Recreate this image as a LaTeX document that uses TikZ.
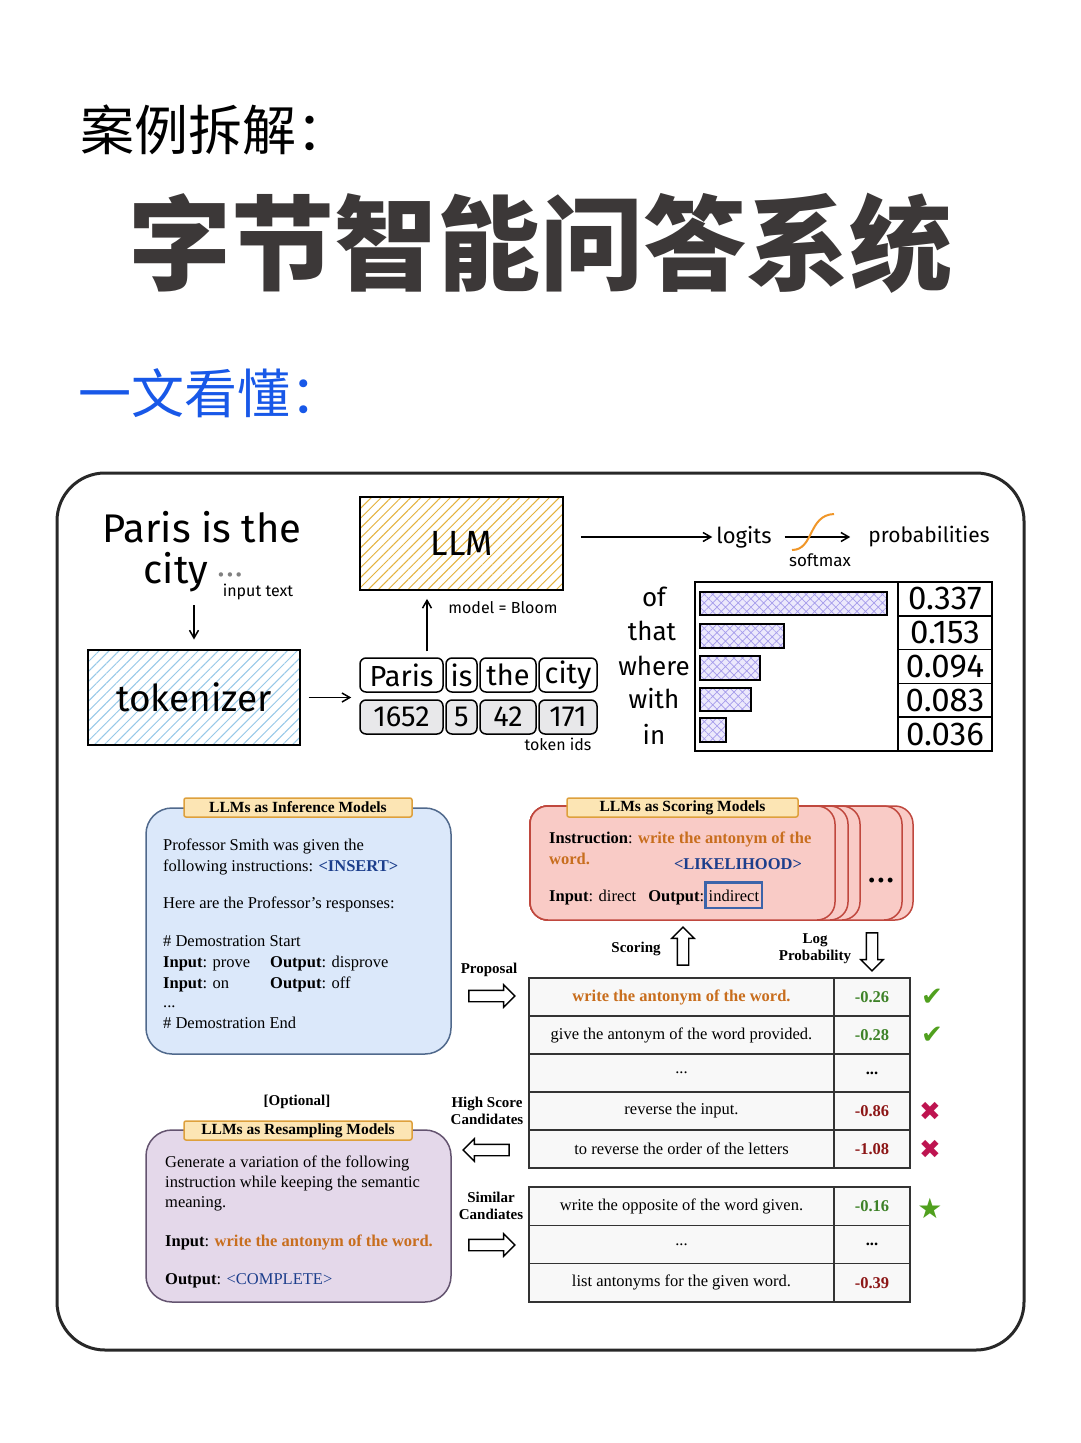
\documentclass[tikz,border=0pt]{standalone}
\usepackage{fontspec}
\usepackage{xcolor}
\usepackage{tikz}
\usetikzlibrary{arrows.meta,patterns.meta,shapes.arrows}
\setmainfont{Liberation Serif}
\newfontfamily\cjk{Noto Sans CJK SC}
\newfontfamily\hand{Fira Sans}
\newfontfamily\sym{DejaVu Sans}
\newcommand{\fsz}[1]{\fontsize{#1pt}{#1pt}\selectfont}
\definecolor{headgray}{RGB}{60,56,56}
\definecolor{headblue}{RGB}{24,88,232}
\definecolor{framegray}{RGB}{40,40,40}
\definecolor{tokhatch}{RGB}{150,200,232}
\definecolor{llmhatch}{RGB}{228,178,60}
\definecolor{barhatch}{RGB}{165,155,235}
\definecolor{barfill}{RGB}{236,233,252}
\definecolor{idfill}{RGB}{232,232,234}
\definecolor{softorange}{RGB}{240,150,40}
\definecolor{tagfill}{RGB}{252,229,180}
\definecolor{tagline}{RGB}{222,160,60}
\definecolor{inffill}{RGB}{219,232,250}
\definecolor{infline}{RGB}{80,105,140}
\definecolor{scofill}{RGB}{249,203,198}
\definecolor{scoline}{RGB}{192,72,62}
\definecolor{resfill}{RGB}{228,216,234}
\definecolor{resline}{RGB}{100,84,112}
\definecolor{cellfill}{RGB}{248,248,248}
\definecolor{insorange}{RGB}{200,110,30}
\definecolor{tagblue}{RGB}{28,62,140}
\definecolor{goodgreen}{RGB}{62,130,40}
\definecolor{badred}{RGB}{140,22,22}
\definecolor{tickgreen}{RGB}{80,160,30}
\definecolor{crossred}{RGB}{190,20,80}
\definecolor{boxblue}{RGB}{60,100,170}

\begin{document}
\begin{tikzpicture}[x=1pt,y=-1pt,
  handbox/.style={draw=black,line width=1.8pt},
  tokbox/.style={draw=black,line width=1.5pt,rounded corners=6pt,minimum height=34pt,inner sep=0pt,font=\hand\fsz{29}},
  handarrow/.style={line width=1.5pt,-{Straight Barb[angle=60:9pt]}},
  handlab/.style={inner sep=0pt,font=\hand\fsz{16}},
  valcell/.style={draw=black,line width=1.5pt,minimum width=94pt,minimum height=33.8pt,inner sep=0pt,font=\hand\fsz{33}},
  bar/.style={draw=black,line width=1.5pt,preaction={fill=barfill},pattern={Hatch[angle=45,distance=6pt,line width=0.7pt]},pattern color=barhatch},
  word/.style={inner sep=0pt,font=\hand\fsz{26}},
  tag/.style={draw=tagline,fill=tagfill,line width=1.5pt,rounded corners=2pt,minimum width=228pt,minimum height=19pt,inner sep=0pt,font=\bfseries\fsz{15.5}},
  body/.style={anchor=base west,inner sep=0pt,font=\fsz{16.5}},
  cellL/.style={draw=black!80,fill=cellfill,line width=1.3pt,minimum width=305pt,minimum height=38pt,inner sep=0pt,font=\fsz{16.5}},
  cellR/.style={draw=black!80,fill=cellfill,line width=1.3pt,minimum width=76pt,minimum height=38pt,inner sep=0pt,font=\bfseries\fsz{16.5}},
  hollow/.style={single arrow,draw=black,fill=white,line width=1.4pt,inner sep=5pt,minimum height=46pt,single arrow head extend=5.5pt,single arrow head indent=0pt},
  side/.style={font=\bfseries\fsz{15},align=center,inner sep=0pt},
  card/.style={draw=scoline,fill=scofill,line width=1.5pt,rounded corners=18pt}
]
\useasboundingbox (0,0) rectangle (1080,1443);
\fill[white] (0,0) rectangle (1080,1443);

% heading
\node[anchor=west,inner sep=0pt,font=\cjk\fsz{54}] (case) at (80,130) {案例拆解：};
\node[inner sep=0pt,font=\cjk\bfseries\fsz{103},text=headgray] (title) at (540,243) {字节智能问答系统};
\node[anchor=west,inner sep=0pt,font=\cjk\fsz{53},text=headblue] (sub) at (78,393) {一文看懂：};

% outer frame
\draw[framegray,line width=3pt,rounded corners=48pt] (57,473) rectangle (1024,1350);

% sketch: text -> tokenizer -> ids -> LLM
\node[inner sep=0pt,font=\hand\fsz{40}] (intext) at (202,527) {Paris is the};
\node[inner sep=0pt,font=\hand\fsz{40}] (city) at (176,572) {city};
\node[inner sep=0pt,font=\sym\fsz{15},text=gray] (dots) at (230,577) {•••};
\node[handlab] (inlab) at (258,592) {input text};
\node[handbox,minimum width=212pt,minimum height=95pt,pattern={Lines[angle=45,distance=7pt,line width=1pt]},pattern color=tokhatch,font=\hand\fsz{37}] (tok) at (194,697.5) {tokenizer};
\node[handbox,minimum width=203pt,minimum height=93pt,pattern={Lines[angle=45,distance=7pt,line width=1pt]},pattern color=llmhatch,font=\hand\fsz{35}] (llm) at (461.5,543.5) {LLM};

\node[tokbox,minimum width=83pt] (tp1) at (401.5,675) {Paris};
\node[tokbox,minimum width=31pt] (tp2) at (461.5,675) {is};
\node[tokbox,minimum width=56pt] (tp3) at (508,675) {the};
\node[tokbox,minimum width=58pt] (tp4) at (568,675) {city};
\node[tokbox,fill=idfill,minimum width=83pt] (ti1) at (401.5,717) {1652};
\node[tokbox,fill=idfill,minimum width=31pt] (ti2) at (461.5,717) {5};
\node[tokbox,fill=idfill,minimum width=56pt] (ti3) at (508,717) {42};
\node[tokbox,fill=idfill,minimum width=58pt] (ti4) at (568,717) {171};
\node[handlab] (idlab) at (558,744) {token ids};
\node[handlab] (modlab) at (503,608) {model = Bloom};

\draw[handarrow,shorten <=13pt,shorten >=10pt] (city.south -| tok.north) -- (tok.north);
\draw[handarrow,shorten <=8pt,shorten >=8pt] (tok.east) -- (tok.east -| tp1.west);
\draw[handarrow] ([xshift=25.5pt,yshift=6pt]tp1.north) -- ([xshift=-34.5pt,yshift=-8pt]llm.south);

% logits and probabilities
\node[inner sep=0pt,font=\hand\fsz{22}] (logits) at (744,537) {logits};
\node[inner sep=0pt,font=\hand\fsz{21}] (probs) at (929,537) {probabilities};
\node[handlab,font=\hand\fsz{17}] (smlab) at (820,560) {softmax};
\draw[handarrow,shorten <=17pt,shorten >=4pt] (llm.east |- logits.west) -- (logits.west);
\draw[handarrow,shorten <=13pt,shorten >=18pt] (logits.east) -- (probs.west);
\draw[softorange,line width=2pt] (792,550) .. controls (814,550) and (808,515) .. (834,514);

% bar chart
\draw[line width=1.5pt] (695,582) rectangle (898,751);
\draw[bar] (700,592) rectangle (887,615);
\draw[bar] (700,624) rectangle (784,648);
\draw[bar] (700,656) rectangle (760,680);
\draw[bar] (700,688) rectangle (751,711);
\draw[bar] (700,718) rectangle (726,742);
\node[valcell] (v1) at (945,598.9) {0.337};
\node[valcell] (v2) at (945,632.7) {0.153};
\node[valcell] (v3) at (945,666.5) {0.094};
\node[valcell] (v4) at (945,700.3) {0.083};
\node[valcell] (v5) at (945,734.1) {0.036};
\node[word] (w1) at (654,597) {of};
\node[word] (w2) at (652,631) {that};
\node[word] (w3) at (654,666) {where};
\node[word] (w4) at (654,699) {with};
\node[word] (w5) at (654,734) {in};

% inference model
\node[draw=infline,fill=inffill,line width=1.5pt,rounded corners=26pt,minimum width=305pt,minimum height=246pt] (infbox) at (298.5,931) {};
\node[tag] (inftag) at (298,807.5) {LLMs as Inference Models};
\node[body] (inf1) at (163,850) {Professor Smith was given the};
\node[body] (inf2) at (163,871) {following instructions: \textcolor{tagblue}{\textbf{<INSERT>}}};
\node[body] (inf3) at (163,908) {Here are the Professor’s responses:};
\node[body] (inf4) at (163,946) {\# Demostration Start};
\node[body] (inf5) at (163,967) {\makebox[107pt][l]{\textbf{Input}: prove}\textbf{Output}: disprove};
\node[body] (inf6) at (163,988) {\makebox[107pt][l]{\textbf{Input}: on}\textbf{Output}: off};
\node[body] (inf7) at (163,1007) {...};
\node[body] (inf8) at (163,1028) {\# Demostration End};

% scoring model
\draw[card] (530,806) rectangle (913,920);
\draw[card] (530,806) rectangle (902,920);
\draw[card] (530,806) rectangle (860,920);
\draw[card] (530,806) rectangle (848,920);
\node[card,minimum width=305pt,minimum height=114pt] (scobox) at (682.5,863) {};
\node[inner sep=0pt,font=\bfseries\fsz{18}] (moredots) at (881,882) {•\,•\,•};
\node[tag,minimum width=231pt] (scotag) at (682.5,807.5) {LLMs as Scoring Models};
\node[body] (sc1) at (549,843) {\textbf{Instruction}: \textcolor{insorange}{\textbf{write the antonym of the}}};
\node[body] (sc2) at (549,864) {\textcolor{insorange}{\textbf{word.}}};
\node[inner sep=0pt,font=\bfseries\fsz{16.5},text=tagblue] (likely) at (738,864) {<LIKELIHOOD>};
\node[body] (sc3) at (549,901) {\textbf{Input}: direct\hspace{12pt}\textbf{Output}:};
\node[anchor=base west,draw=boxblue,line width=2.5pt,inner xsep=3pt,inner ysep=7pt,font=\fsz{16.5}] (indir) at (sc3.base east) {indirect};

\node[side] (scorelab) at (636,949) {Scoring};
\node[hollow,minimum height=38pt,shape border rotate=90] (uparr) at (683,949) {};
\node[side] (loglab) at (815,949) {Log\\[2pt]Probability};
\node[hollow,minimum height=38pt,shape border rotate=270] (downarr) at (872,949) {};

% candidate table
\node[cellL] (c1) at (681.5,997) {\textcolor{insorange}{\textbf{write the antonym of the word.}}};
\node[cellR,text=goodgreen] (s1) at (872,997) {-0.26};
\node[cellL] (c2) at (681.5,1035) {give the antonym of the word provided.};
\node[cellR,text=goodgreen] (s2) at (872,1035) {-0.28};
\node[cellL] (c3) at (681.5,1073) {...};
\node[cellR] (s3) at (872,1073) {...};
\node[cellL] (c4) at (681.5,1111) {reverse the input.};
\node[cellR,text=badred] (s4) at (872,1111) {-0.86};
\node[cellL] (c5) at (681.5,1149) {to reverse the order of the letters};
\node[cellR,text=badred] (s5) at (872,1149) {-1.08};
\node[inner sep=0pt,font=\sym\fsz{26},text=tickgreen] (ok1) at (932,997) {✔};
\node[inner sep=0pt,font=\sym\fsz{26},text=tickgreen] (ok2) at (932,1035) {✔};
\node[inner sep=0pt,font=\sym\fsz{26},text=crossred] (no1) at (930,1111) {✖};
\node[inner sep=0pt,font=\sym\fsz{26},text=crossred] (no2) at (930,1149) {✖};

\node[side] (proplab) at (489,970) {Proposal};
\node[hollow] (proparr) at (489,996) {};
\node[side] (highlab) at (487,1111) {High Score\\[2pt]Candidates};
\node[hollow,shape border rotate=180] (higharr) at (489,1150) {};

% resampling model
\node[side,font=\bfseries\fsz{15}] (optlab) at (297,1102) {[Optional]};
\node[draw=resline,fill=resfill,line width=1.5pt,rounded corners=26pt,minimum width=305pt,minimum height=172pt] (resbox) at (298.5,1216) {};
\node[tag] (restag) at (298,1130.5) {LLMs as Resampling Models};
\node[body] (rs1) at (165,1167) {Generate a variation of the following};
\node[body] (rs2) at (165,1187) {instruction while keeping the semantic};
\node[body] (rs3) at (165,1207) {meaning.};
\node[body] (rs4) at (165,1246) {\textbf{Input}: \textcolor{insorange}{\textbf{write the antonym of the word.}}};
\node[body] (rs5) at (165,1284) {\textbf{Output}: \textcolor{tagblue}{<COMPLETE>}};

\node[side] (simlab) at (491,1206) {Similar\\[2pt]Candiates};
\node[hollow] (simarr) at (489,1245) {};

% similar candidates table
\node[cellL,minimum height=38.3pt] (d1) at (681.5,1206.2) {write the opposite of the word given.};
\node[cellR,minimum height=38.3pt,text=goodgreen] (t1) at (872,1206.2) {-0.16};
\node[cellL,minimum height=38.3pt] (d2) at (681.5,1244.5) {...};
\node[cellR,minimum height=38.3pt] (t2) at (872,1244.5) {...};
\node[cellL,minimum height=38.3pt] (d3) at (681.5,1282.8) {list antonyms for the given word.};
\node[cellR,minimum height=38.3pt,text=badred] (t3) at (872,1282.8) {-0.39};
\node[inner sep=0pt,font=\sym\fsz{28},text=tickgreen] (best) at (930,1208) {★};
\end{tikzpicture}
\end{document}
